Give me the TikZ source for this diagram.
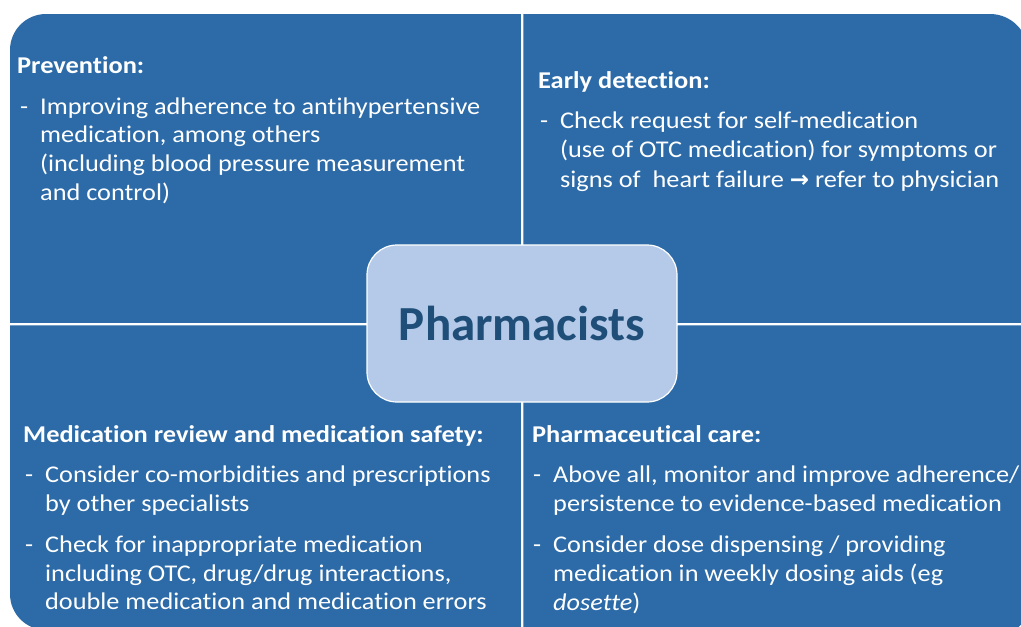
\documentclass[tikz,border=0pt]{standalone}
\usepackage{fontspec}
\setmainfont[Ligatures=NoCommon, FakeStretch=1.095]{Carlito}
\newfontfamily\centerfont[Ligatures=NoCommon]{Carlito}
\newfontfamily\arrowfont{DejaVu Sans}
\definecolor{qblue}{HTML}{2C6BA8}
\definecolor{cfill}{HTML}{B4CAE8}
\definecolor{ctext}{HTML}{1F4E79}
\tikzset{
  quad/.style={fill=qblue},
  txt/.style={anchor=base west, inner sep=0pt, text=white, font=\fontsize{24}{29}\selectfont},
  hd/.style={anchor=base west, inner sep=0pt, text=white, font=\bfseries\fontsize{24.1}{29}\selectfont},
  centerbox/.style={draw=white, line width=1.2pt, fill=cfill, rounded corners=30pt,
    minimum width=310pt, minimum height=157pt, text=ctext, font=\centerfont\bfseries\fontsize{49}{54}\selectfont}
}
\begin{document}
\begin{tikzpicture}[x=1pt,y=-1pt]
\useasboundingbox[fill=white] (0,0) rectangle (1021,627);
\clip (0,0) rectangle (1021,627);
% quadrants
\fill[quad] (10,322.8) -- (10,50) arc(180:270:36) -- (520.8,14) -- (520.8,322.8) -- cycle;
\fill[quad] (523.3,14) -- (990,14) arc(270:360:38) -- (1028,322.8) -- (523.3,322.8) -- cycle;
\fill[quad] (10,325.3) -- (520.8,325.3) -- (520.8,630) -- (46,630) arc(90:180:36) -- cycle;
\fill[quad] (523.3,325.3) -- (1032,325.3) -- (1032,598) arc(0:90:38) -- (523.3,636) -- cycle;
% center
\node[centerbox] (c) at (522,323.5) {Pharmacists};
% Prevention
\node[hd] (pv0) at (17,73) {Prevention:};
\node[txt] (pvd) at (20,114) {-};
\node[txt] (pv1) at (40,114) {Improving adherence to antihypertensive};
\node[txt] (pv2) at (40,142) {medication, among others};
\node[txt] (pv3) at (40,171) {(including blood pressure measurement};
\node[txt] (pv4) at (40,200) {and control)};
% Early detection
\node[hd] (ed0) at (538,88) {Early detection:};
\node[txt] (edd) at (540,128) {-};
\node[txt] (ed1) at (560,128) {Check request for self-medication};
\node[txt] (ed2) at (560,157) {(use of OTC medication) for symptoms or};
\node[txt] (ed3) at (560,187) {signs of\ \ heart failure {\arrowfont\bfseries\fontsize{23}{26}\selectfont →} refer to physician};
% Medication review
\node[hd] (mr0) at (23,442) {Medication review and medication safety:};
\node[txt] (mrd1) at (25,482) {-};
\node[txt] (mr1) at (45,482) {Consider co-morbidities and prescriptions};
\node[txt] (mr2) at (45,511) {by other specialists};
\node[txt] (mrd2) at (25,552) {-};
\node[txt] (mr3) at (45,552) {Check for inappropriate medication};
\node[txt] (mr4) at (45,581) {including OTC, drug/drug interactions,};
\node[txt] (mr5) at (45,609) {double medication and medication errors};
% Pharmaceutical care
\node[hd] (pc0) at (532,442) {Pharmaceutical care:};
\node[txt] (pcd1) at (533,482) {-};
\node[txt] (pc1) at (553,482) {Above all, monitor and improve adherence/};
\node[txt] (pc2) at (553,511) {persistence to evidence-based medication};
\node[txt] (pcd2) at (533,552) {-};
\node[txt] (pc3) at (553,552) {Consider dose dispensing / providing};
\node[txt] (pc4) at (553,581) {medication in weekly dosing aids (eg};
\node[txt] (pc5) at (553,610) {\textit{dosette})};
\end{tikzpicture}
\end{document}
